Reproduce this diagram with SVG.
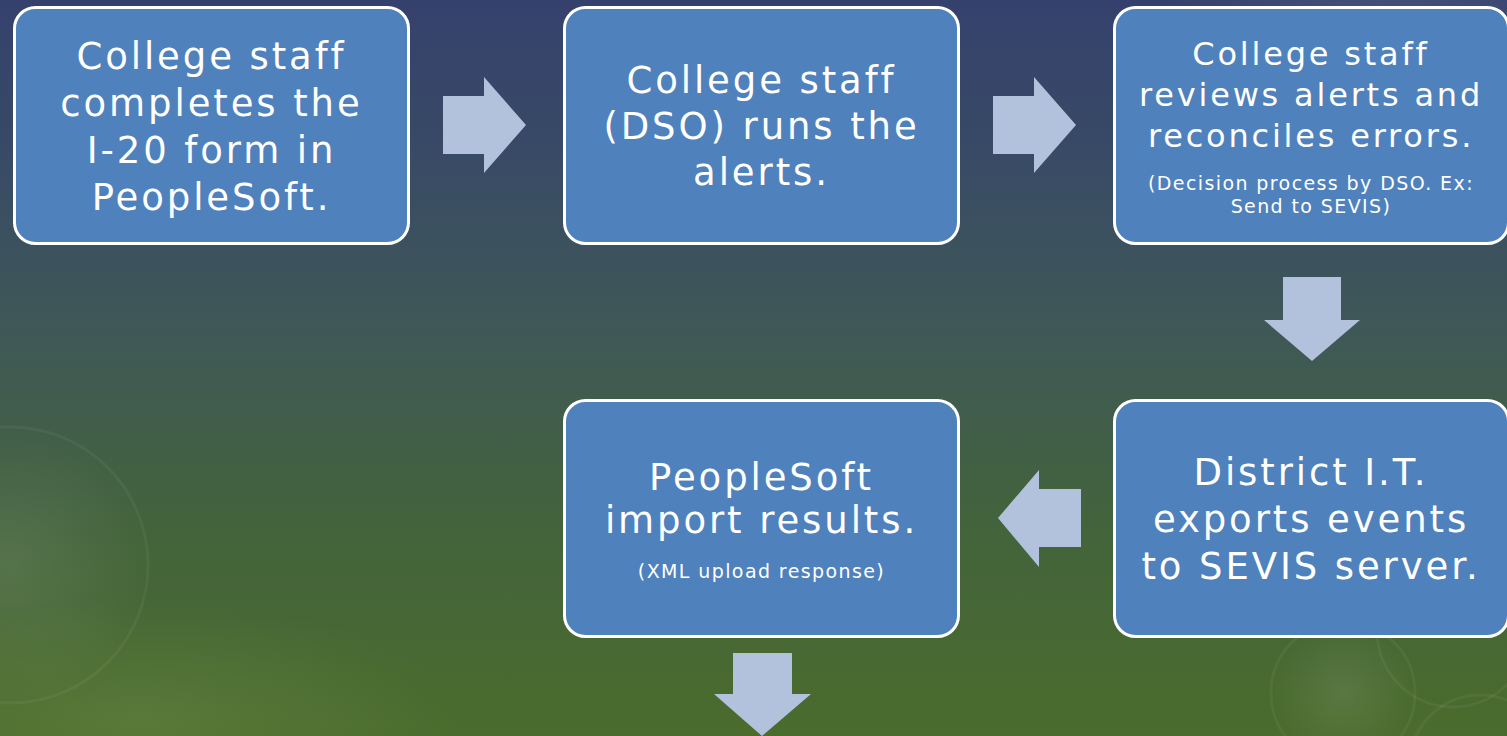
<svg xmlns="http://www.w3.org/2000/svg" width="1507" height="736" viewBox="0 0 1507 736">
<defs>
<linearGradient id="bg" x1="0" y1="0" x2="0" y2="1">
<stop offset="0" stop-color="#35416d"/>
<stop offset="0.2" stop-color="#384a66"/>
<stop offset="0.45" stop-color="#3f5857"/>
<stop offset="0.7" stop-color="#43633d"/>
<stop offset="1" stop-color="#4a6c2c"/>
</linearGradient>
<radialGradient id="glow" cx="0.5" cy="0.5" r="0.5">
<stop offset="0" stop-color="#ffffff" stop-opacity="0.09"/>
<stop offset="1" stop-color="#ffffff" stop-opacity="0"/>
</radialGradient>
<radialGradient id="glowG" cx="0.5" cy="0.5" r="0.5">
<stop offset="0" stop-color="#7a9a50" stop-opacity="0.3"/>
<stop offset="1" stop-color="#7a9a50" stop-opacity="0"/>
</radialGradient>
<style>
.box{fill:#4f81bd;stroke:#ffffff;stroke-width:3}
.t{fill:#ffffff;font-family:"DejaVu Sans",Verdana,sans-serif;text-anchor:middle}
.big{font-size:37px;letter-spacing:2.9px}
.mid{font-size:32px;letter-spacing:2.8px}
.small{font-size:19px;letter-spacing:1.4px}
.arr{fill:#b3c2dc}
.ring{fill:none;stroke:#ffffff;stroke-opacity:0.05;stroke-width:3}
</style>
</defs>
<rect x="0" y="0" width="1507" height="736" fill="url(#bg)"/>
<ellipse cx="1380" cy="30" rx="220" ry="120" fill="url(#glow)"/>
<ellipse cx="140" cy="720" rx="320" ry="120" fill="url(#glowG)"/>
<circle cx="10" cy="565" r="140" fill="url(#glow)"/>
<circle cx="10" cy="565" r="138" class="ring"/>
<circle cx="1343" cy="693" r="72" fill="url(#glow)"/>
<circle cx="1343" cy="693" r="72" class="ring"/>
<circle cx="1453" cy="631" r="76" class="ring"/>
<circle cx="1480" cy="765" r="70" class="ring"/>
<g id="connectors">
<polygon class="arr" points="443,96 484,96 484,77 526,125 484,173 484,154 443,154"/>
<polygon class="arr" points="993,96 1034,96 1034,77 1076,125 1034,173 1034,154 993,154"/>
<polygon class="arr" points="1283,277 1341,277 1341,320 1360,320 1312,361 1264,320 1283,320"/>
<polygon class="arr" points="1081,489 1039,489 1039,470 998,518 1039,567 1039,547 1081,547"/>
<polygon class="arr" points="733,653 792,653 792,694 811,694 762,736 714,694 733,694"/>
</g>
<g id="node1">
<rect class="box" x="14.5" y="7.5" width="394" height="236" rx="21"/>
<text class="t big" x="211.5" y="69">College staff</text>
<text class="t big" x="211.5" y="116">completes the</text>
<text class="t big" x="211.5" y="163">I-20 form in</text>
<text class="t big" x="211.5" y="210">PeopleSoft.</text>
</g>
<g id="node2">
<rect class="box" x="564.5" y="7.5" width="394" height="236" rx="21"/>
<text class="t big" x="761.5" y="93">College staff</text>
<text class="t big" x="761.5" y="139">(DSO) runs the</text>
<text class="t big" x="761.5" y="185">alerts.</text>
</g>
<g id="node3">
<rect class="box" x="1114.5" y="7.5" width="394" height="236" rx="21"/>
<text class="t mid" x="1311" y="65">College staff</text>
<text class="t mid" x="1311" y="106">reviews alerts and</text>
<text class="t mid" x="1311" y="147">reconciles errors.</text>
<text class="t small" x="1311" y="190">(Decision process by DSO. Ex:</text>
<text class="t small" x="1311" y="213">Send to SEVIS)</text>
</g>
<g id="node4">
<rect class="box" x="564.5" y="400.5" width="394" height="236" rx="21"/>
<text class="t big" x="761.5" y="490">PeopleSoft</text>
<text class="t big" x="761.5" y="533">import results.</text>
<text class="t small" x="761.5" y="578">(XML upload response)</text>
</g>
<g id="node5">
<rect class="box" x="1114.5" y="400.5" width="394" height="236" rx="21"/>
<text class="t big" x="1311" y="485">District I.T.</text>
<text class="t big" x="1311" y="532">exports events</text>
<text class="t big" x="1311" y="579">to SEVIS server.</text>
</g>
</svg>
